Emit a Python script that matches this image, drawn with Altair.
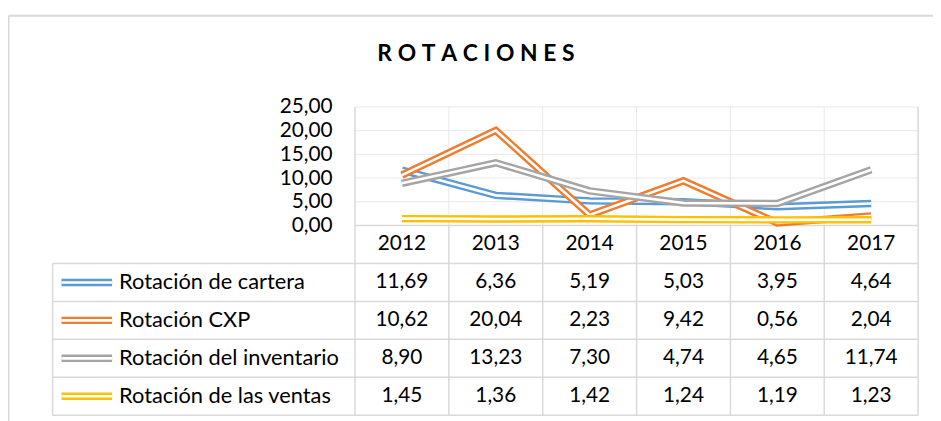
import altair as alt
import pandas as pd

# ---------------- data ----------------
years = ["2012", "2013", "2014", "2015", "2016", "2017"]
series_names = ["Rotación de cartera", "Rotación CXP",
                "Rotación del inventario", "Rotación de las ventas"]
cartera = [11.69, 6.36, 5.19, 5.03, 3.95, 4.64]
cxp = [10.62, 20.04, 2.23, 9.42, 0.56, 2.04]
inventario = [8.90, 13.23, 7.30, 4.74, 4.65, 11.74]
ventas = [1.45, 1.36, 1.42, 1.24, 1.19, 1.23]
colors = ["#5B9BD5", "#ED7D31", "#A5A5A5", "#FFC000"]
y_ticks = [0, 5, 10, 15, 20, 25]
title_text = "ROTACIONES"

# ---------------- layout ----------------
FONT = "Lato"
FS = 21
FS_LEG = 22
W, H = 568, 311
NCOL = len(years)
ROW = 8.0                      # table row height, in y-units
NROWS = len(series_names) + 1
Y_MIN = -NROWS * ROW
Y_MAX = 25
LEG_X0 = -3.222                # left edge of legend column (column units)
SYM_X0, SYM_X1, LAB_X = -3.127, -2.588, -2.514
GRID = "#e8e8e8"
TBL = "#d9d9d9"

all_values = [cartera, cxp, inventario, ventas]

recs = []
for k, (name, vals) in enumerate(zip(series_names, all_values)):
    for i, (yr, v) in enumerate(zip(years, vals)):
        recs.append({"serie": name, "k": k, "year": yr, "xc": i + 0.5, "value": v,
                     "label": f"{v:.2f}".replace(".", ","),
                     "yrow": -((k + 1) * ROW + ROW / 2)})
df = pd.DataFrame(recs)

hdr = pd.DataFrame({"year": years, "xc": [i + 0.5 for i in range(NCOL)],
                    "yrow": [-ROW / 2] * NCOL})
leg = pd.DataFrame({"serie": series_names, "k": list(range(len(series_names))),
                    "x0": [SYM_X0] * 4, "x1": [SYM_X1] * 4, "xl": [LAB_X] * 4,
                    "yrow": [-((k + 1) * ROW + ROW / 2) for k in range(4)]})

xs = alt.Scale(domain=[0, NCOL], nice=False, zero=False)
ys = alt.Scale(domain=[Y_MIN, Y_MAX], nice=False, zero=False)
yaxis = alt.Axis(values=y_ticks, grid=False, domain=False, ticks=False,
                 labelExpr="replace(format(datum.value, '.2f'), '.', ',')",
                 labelFont=FONT, labelFontSize=FS, labelColor="#000000",
                 labelPadding=23, title=None)


def X(f):
    return alt.X(f, type="quantitative", scale=xs, axis=None, title=None)


def X2(f):
    return alt.X2(f)


def Y(f):
    return alt.Y(f, type="quantitative", scale=ys, axis=yaxis, title=None)


# grid / table lines
grid_h = pd.DataFrame({"y": [t for t in y_ticks if t > 0], "x0": 0, "x1": NCOL})
grid_v = pd.DataFrame({"x": list(range(1, NCOL)), "y0": 0, "y1": Y_MAX})
tbl_h = pd.DataFrame({"y": [0] + [-(r * ROW) for r in range(1, NROWS + 1)],
                      "x0": [0] + [LEG_X0] * NROWS, "x1": NCOL})
tbl_v = pd.DataFrame({"x": list(range(0, NCOL + 1)) + [LEG_X0],
                      "y0": [Y_MAX if c in (0, NCOL) else 0 for c in range(NCOL + 1)] + [-ROW],
                      "y1": Y_MIN})

layers = []
layers.append(alt.Chart(grid_h).mark_rule(color=GRID, strokeWidth=1).encode(
    y=Y("y"), x=X("x0"), x2=X2("x1")))
layers.append(alt.Chart(grid_v).mark_rule(color=GRID, strokeWidth=1).encode(
    x=X("x"), y=Y("y0"), y2=alt.Y2("y1")))
layers.append(alt.Chart(tbl_h).mark_rule(color=TBL, strokeWidth=1.5).encode(
    y=Y("y"), x=X("x0"), x2=X2("x1")))
layers.append(alt.Chart(tbl_v).mark_rule(color=TBL, strokeWidth=1.5).encode(
    x=X("x"), y=Y("y0"), y2=alt.Y2("y1")))

# double lines
for k, name in enumerate(series_names):
    sub = alt.Chart(df).transform_filter(alt.datum.k == k)
    layers.append(sub.mark_line(color=colors[k], strokeWidth=7.5, strokeJoin="miter").encode(
        x=X("xc"), y=Y("value"), order="xc:Q"))
    layers.append(sub.mark_line(color="white", strokeWidth=2.6, strokeJoin="miter").encode(
        x=X("xc"), y=Y("value"), order="xc:Q"))
    lsub = alt.Chart(leg).transform_filter(alt.datum.k == k)
    layers.append(lsub.mark_rule(color=colors[k], strokeWidth=7.5).encode(
        x=X("x0"), x2=X2("x1"), y=Y("yrow")))
    layers.append(lsub.mark_rule(color="white", strokeWidth=2.6).encode(
        x=X("x0"), x2=X2("x1"), y=Y("yrow")))

# table text
layers.append(alt.Chart(hdr).mark_text(font=FONT, fontSize=FS, color="#000000",
                                        align="center", baseline="middle").encode(
    x=X("xc"), y=Y("yrow"), text="year:N"))
layers.append(alt.Chart(df).mark_text(font=FONT, fontSize=FS, color="#000000",
                                       align="center", baseline="middle").encode(
    x=X("xc"), y=Y("yrow"), text="label:N"))
layers.append(alt.Chart(leg).mark_text(font=FONT, fontSize=FS_LEG, color="#000000",
                                        align="left", baseline="middle").encode(
    x=X("xl"), y=Y("yrow"), text="serie:N"))

# title (letter-spaced)
spaced = "\u2005".join(list(title_text))
layers.append(alt.Chart(pd.DataFrame({"t": [spaced]})).mark_text(
    font=FONT, fontSize=23, fontWeight="bold", color="#000000",
    align="center", baseline="alphabetic").encode(
    x=alt.value(122), y=alt.value(-46), text="t:N"))

# outer frame
frame = pd.DataFrame({"a": [0]})
layers.append(alt.Chart(frame).mark_rule(color=TBL, strokeWidth=2).encode(
    x=alt.value(-349.5), x2=alt.value(583), y=alt.value(-92)))
layers.append(alt.Chart(frame).mark_rule(color=TBL, strokeWidth=2).encode(
    x=alt.value(-349.5), y=alt.value(-92), y2=alt.value(320)))

chart = alt.layer(*layers).properties(
    width=W, height=H,
    autosize=alt.AutoSizeParams(type="none"),
    padding={"left": 350, "top": 98, "right": 15, "bottom": 4},
    background="white",
).configure_view(stroke=None)

chart.save("out.html", embed_options={"renderer": "svg", "actions": False})
